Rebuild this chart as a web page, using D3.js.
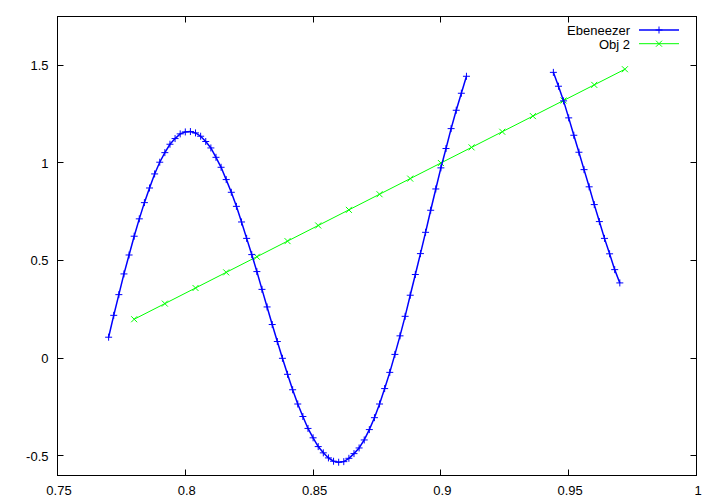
<!DOCTYPE html>
<html>
<head>
<meta charset="utf-8">
<script src="https://cdn.jsdelivr.net/npm/d3@7"></script>
<style>
  html, body { margin: 0; padding: 0; background: #fff; }
  svg { display: block; }
  text { font-family: "Liberation Sans", Arial, sans-serif; font-size: 13px; fill: #000; }
</style>
</head>
<body>
<svg id="chart" width="720" height="504"></svg>
<script>
// ---- data ----
const seriesNames = ["Ebeneezer", "Obj 2"];

const ebeneezerX1 = [0.770,0.772,0.774,0.776,0.778,0.780,0.782,0.784,0.786,0.788,
  0.790,0.792,0.794,0.796,0.798,0.800,0.802,0.804,0.806,0.808,
  0.810,0.812,0.814,0.816,0.818,0.820,0.822,0.824,0.826,0.828,
  0.830,0.832,0.834,0.836,0.838,0.840,0.842,0.844,0.846,0.848,
  0.850,0.852,0.854,0.856,0.858,0.860,0.862,0.864,0.866,0.868,
  0.870,0.872,0.874,0.876,0.878,0.880,0.882,0.884,0.886,0.888,
  0.890,0.892,0.894,0.896,0.898,0.900,0.902,0.904,0.906,0.908,0.910];
const ebeneezerY1 = [0.108,0.220,0.326,0.432,0.529,0.625,0.714,0.797,0.872,0.944,
  1.004,1.053,1.096,1.125,1.149,1.159,1.161,1.154,1.137,1.110,
  1.077,1.029,0.978,0.915,0.850,0.778,0.698,0.614,0.531,0.444,
  0.353,0.263,0.173,0.086,0.000,-0.082,-0.161,-0.234,-0.298,-0.359,
  -0.407,-0.452,-0.484,-0.510,-0.527,-0.532,-0.529,-0.512,-0.488,-0.459,
  -0.418,-0.365,-0.304,-0.234,-0.155,-0.072,0.020,0.115,0.215,0.323,
  0.429,0.536,0.645,0.758,0.867,0.975,1.074,1.176,1.270,1.357,1.444];

const ebeneezerX2 = [0.944,0.946,0.948,0.950,0.952,0.954,0.956,0.958,0.960,0.962,0.964,0.966,0.968,0.970];
const ebeneezerY2 = [1.464,1.393,1.318,1.231,1.142,1.055,0.966,0.878,0.787,0.700,0.614,0.535,0.454,0.386];

const obj2X = [0.780,0.792,0.804,0.816,0.828,0.840,0.852,0.864,0.876,0.888,0.900,0.912,0.924,0.936,0.948,0.960,0.972];
const obj2Y = [0.20,0.28,0.36,0.44,0.52,0.60,0.68,0.76,0.84,0.92,1.00,1.08,1.16,1.24,1.32,1.40,1.48];

const xTicks = [0.75, 0.8, 0.85, 0.9, 0.95, 1];
const xTickLabels = ["0.75", "0.8", "0.85", "0.9", "0.95", "1"];
const yTicks = [-0.5, 0, 0.5, 1, 1.5];
const yTickLabels = ["-0.5", "0", "0.5", "1", "1.5"];
const xDomain = [0.75, 1];
const yDomain = [-0.6, 1.75];

// ---- drawing ----
const svg = d3.select("#chart");
const L = 57.5, R = 696.5, T = 16.5, B = 475.5;
const x = d3.scaleLinear().domain(xDomain).range([L, R]);
const y = d3.scaleLinear().domain(yDomain).range([B, T]);
const tickLen = 6;

const blue = "#0000ff", green = "#00ff00";

// ticks (mirrored, inward)
const tg = svg.append("g").attr("stroke", "#000").attr("stroke-width", 1);
xTicks.forEach(v => {
  const px = Math.round(x(v) - 0.5) + 0.5;
  tg.append("line").attr("x1", px).attr("x2", px).attr("y1", B).attr("y2", B - tickLen);
  tg.append("line").attr("x1", px).attr("x2", px).attr("y1", T).attr("y2", T + tickLen);
});
yTicks.forEach(v => {
  const py = Math.round(y(v) - 0.5) + 0.5;
  tg.append("line").attr("x1", L).attr("x2", L + tickLen).attr("y1", py).attr("y2", py);
  tg.append("line").attr("x1", R).attr("x2", R - tickLen).attr("y1", py).attr("y2", py);
});

// tick labels
xTicks.forEach((v, i) => {
  svg.append("text").attr("x", x(v) + 1.5).attr("y", 494.5)
    .attr("text-anchor", "middle").text(xTickLabels[i]);
});
yTicks.forEach((v, i) => {
  svg.append("text").attr("x", 48.5).attr("y", y(v) + 4.7)
    .attr("text-anchor", "end").text(yTickLabels[i]);
});

// frame
svg.append("rect").attr("x", L).attr("y", T).attr("width", R - L).attr("height", B - T)
  .attr("fill", "none").attr("stroke", "#000").attr("stroke-width", 1);

const line = d3.line().x(d => x(d[0])).y(d => y(d[1]));
const zip = (a, b) => a.map((v, i) => [v, b[i]]);

function plus(g, cx, cy, s, color) {
  g.append("path").attr("d", `M${cx - s},${cy}H${cx + s}M${cx},${cy - s}V${cy + s}`)
    .attr("stroke", color).attr("stroke-width", 1).attr("fill", "none");
}
function cross(g, cx, cy, s, color) {
  g.append("path").attr("d", `M${cx - s},${cy - s}L${cx + s},${cy + s}M${cx - s},${cy + s}L${cx + s},${cy - s}`)
    .attr("stroke", color).attr("stroke-width", 1).attr("fill", "none");
}

// Obj 2 (green)
const gG = svg.append("g");
const obj2 = zip(obj2X, obj2Y);
gG.append("path").datum(obj2).attr("d", line).attr("fill", "none")
  .attr("stroke", green).attr("stroke-width", 1);
obj2.forEach(d => cross(gG, x(d[0]), y(d[1]), 3, green));

// Ebeneezer (blue)
const gB = svg.append("g");
[zip(ebeneezerX1, ebeneezerY1), zip(ebeneezerX2, ebeneezerY2)].forEach(seg => {
  gB.append("path").datum(seg).attr("d", line).attr("fill", "none")
    .attr("stroke", blue).attr("stroke-width", 1.5);
  seg.forEach(d => plus(gB, x(d[0]), y(d[1]), 3.5, blue));
});

// legend
const legend = [
  { name: seriesNames[0], color: blue, mark: plus, ly: 30, w: 1.5 },
  { name: seriesNames[1], color: green, mark: cross, ly: 43.7, w: 1 }
];
legend.forEach(l => {
  svg.append("text").attr("x", 630).attr("y", l.ly + 5).attr("text-anchor", "end").text(l.name);
  svg.append("line").attr("x1", 639).attr("x2", 679).attr("y1", l.ly).attr("y2", l.ly)
    .attr("stroke", l.color).attr("stroke-width", l.w);
  l.mark(svg, 659, l.ly, l.mark === plus ? 3.5 : 3, l.color);
});
</script>
</body>
</html>
